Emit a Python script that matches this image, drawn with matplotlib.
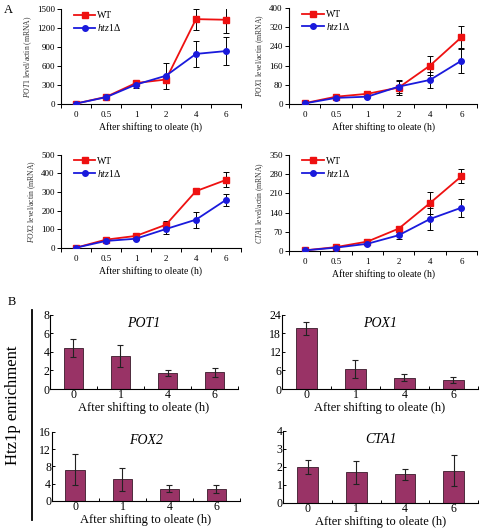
import matplotlib
matplotlib.use("Agg")
import matplotlib.pyplot as plt
from matplotlib.lines import Line2D
import numpy as np

plt.rcParams['font.family'] = ['Liberation Serif', 'DejaVu Serif']
plt.rcParams['mathtext.fontset'] = 'custom'
plt.rcParams['mathtext.it'] = 'Liberation Serif:italic'
plt.rcParams['mathtext.rm'] = 'Liberation Serif'

# ---- Panel A data ----
time_labels_a = ['0', '0.5', '1', '2', '4', '6']
genes_a = ['POT1', 'POX1', 'FOX2', 'CTA1']
wt_vals = {
    'POT1': [5, 110, 330, 385, 1340, 1330],
    'POX1': [3, 30, 42, 68, 160, 278],
    'FOX2': [2, 45, 65, 125, 305, 365],
    'CTA1': [3, 15, 35, 82, 175, 272],
}
wt_err = {
    'POT1': [0, 10, 30, 0, 165, 210],
    'POX1': [0, 3, 4, 30, 40, 47],
    'FOX2': [0, 5, 6, 20, 8, 40],
    'CTA1': [0, 2, 4, 6, 40, 25],
}
htz_vals = {
    'POT1': [5, 105, 305, 445, 790, 835],
    'POX1': [2, 25, 30, 72, 100, 180],
    'FOX2': [2, 38, 50, 102, 152, 258],
    'CTA1': [3, 13, 27, 58, 117, 158],
}
htz_err = {
    'POT1': [0, 10, 60, 205, 210, 225],
    'POX1': [0, 3, 4, 25, 33, 50],
    'FOX2': [0, 5, 6, 25, 43, 30],
    'CTA1': [0, 2, 4, 12, 40, 33],
}
ymax_a = {'POT1': 1500, 'POX1': 400, 'FOX2': 500, 'CTA1': 350}
ystep_a = {'POT1': 300, 'POX1': 80, 'FOX2': 100, 'CTA1': 70}

# ---- Panel B data ----
time_labels_b = ['0', '1', '4', '6']
enrich_vals = {
    'POT1': [4.4, 3.6, 1.7, 1.8],
    'POX1': [19.6, 6.5, 3.6, 3.0],
    'FOX2': [7.2, 5.0, 2.8, 2.7],
    'CTA1': [2.0, 1.7, 1.6, 1.8],
}
enrich_err = {
    'POT1': [1.0, 1.2, 0.35, 0.5],
    'POX1': [2.2, 2.8, 1.1, 1.0],
    'FOX2': [3.6, 2.7, 0.8, 0.9],
    'CTA1': [0.4, 0.65, 0.3, 0.85],
}
ymax_b = {'POT1': 8, 'POX1': 24, 'FOX2': 16, 'CTA1': 4}
ystep_b = {'POT1': 2, 'POX1': 6, 'FOX2': 4, 'CTA1': 1}

WT_COLOR = '#ee1111'
HTZ_COLOR = '#1a1adc'

fig = plt.figure(figsize=(4.8, 5.3), dpi=100)

pos_a = {
    'POT1': [0.127, 0.804, 0.375, 0.179],
    'POX1': [0.602, 0.804, 0.392, 0.181],
    'FOX2': [0.127, 0.532, 0.375, 0.176],
    'CTA1': [0.602, 0.526, 0.392, 0.182],
}
pos_b = {
    'POT1': [0.104, 0.266, 0.392, 0.140],
    'POX1': [0.5875, 0.266, 0.408, 0.140],
    'FOX2': [0.108, 0.055, 0.392, 0.130],
    'CTA1': [0.590, 0.051, 0.406, 0.136],
}

def style_axes(ax):
    for s in ['top', 'right']:
        ax.spines[s].set_visible(False)
    for s in ['left', 'bottom']:
        ax.spines[s].set_linewidth(0.8)
        ax.spines[s].set_color('black')

for g in genes_a:
    ax = fig.add_axes(pos_a[g])
    x = np.arange(len(time_labels_a))
    ax.errorbar(x, wt_vals[g], yerr=wt_err[g], color=WT_COLOR, marker='s', ms=4,
                lw=1.3, ecolor='black', elinewidth=0.7, capsize=2, capthick=0.7,
                zorder=3)
    ax.errorbar(x, htz_vals[g], yerr=htz_err[g], color=HTZ_COLOR, marker='o', ms=4,
                lw=1.3, ecolor='black', elinewidth=0.7, capsize=2, capthick=0.7,
                zorder=3)
    ax.set_xlim(-0.5, len(x) - 0.5)
    ax.set_ylim(0, ymax_a[g])
    ax.set_yticks(np.arange(0, ymax_a[g] + 1, ystep_a[g]))
    ax.set_xticks(x)
    ax.set_xticklabels(time_labels_a)
    ax.set_xticks(np.arange(-0.5, len(x), 1.0), minor=True)
    ax.tick_params(axis='x', which='major', length=0, labelsize=6.5, pad=5)
    ax.tick_params(axis='x', which='minor', length=3, width=0.7, direction='out')
    ax.tick_params(axis='y', length=3, width=0.7, labelsize=6.5, pad=1.5)
    ax.set_xlabel('After shifting to oleate (h)', fontsize=7, labelpad=2)
    ax.set_ylabel(r'$\mathit{' + g + r'}$ level/actin (mRNA)', fontsize=5.5, labelpad=2, color='#333333')
    style_axes(ax)
    handles = [Line2D([], [], color=WT_COLOR, marker='s', ms=4, lw=1.3),
               Line2D([], [], color=HTZ_COLOR, marker='o', ms=4, lw=1.3)]
    ax.legend(handles, ['WT', r'$\mathit{htz1}$Δ'], loc='upper left',
              bbox_to_anchor=(0.04, 1.04), frameon=False,
              fontsize=7, handlelength=2.2, handletextpad=0.2, borderpad=0.1,
              labelspacing=0.2)

fig.text(0.008, 0.975, 'A', fontsize=9)
fig.text(0.015, 0.425, 'B', fontsize=9)

for g in genes_a:
    ax = fig.add_axes(pos_b[g])
    x = np.arange(len(time_labels_b))
    ax.bar(x, enrich_vals[g], width=0.42, color='#993366', edgecolor='#3a1a2a', linewidth=0.6,
           yerr=enrich_err[g], error_kw=dict(ecolor='#222222', elinewidth=0.8, capsize=2, capthick=0.8),
           zorder=2)
    ax.set_xlim(-0.5, len(x) - 0.5)
    ax.set_ylim(0, ymax_b[g])
    ax.set_yticks(np.arange(0, ymax_b[g] + 0.1, ystep_b[g]))
    ax.set_xticks(x)
    ax.set_xticklabels(time_labels_b)
    ax.set_xticks(np.arange(-0.5, len(x), 1.0), minor=True)
    ax.tick_params(axis='x', which='major', length=0, labelsize=8.5, pad=0)
    ax.tick_params(axis='x', which='minor', length=2.5, width=0.7, direction='in')
    ax.tick_params(axis='y', length=2.5, width=0.7, labelsize=8.5, pad=0.5, direction='in')
    ax.set_xlabel('After shifting to oleate (h)', fontsize=9, labelpad=1)
    ax.text(0.5, 0.97, g, transform=ax.transAxes, ha='center', va='top',
            fontsize=10, style='italic')
    style_axes(ax)

fig.text(0.028, 0.236, 'Htz1p enrichment', rotation=90, fontsize=12,
         ha='center', va='center')
fig.add_artist(Line2D([0.066, 0.066], [0.019, 0.415], color='black', lw=1.3))

fig.savefig('out.png', dpi=100)
